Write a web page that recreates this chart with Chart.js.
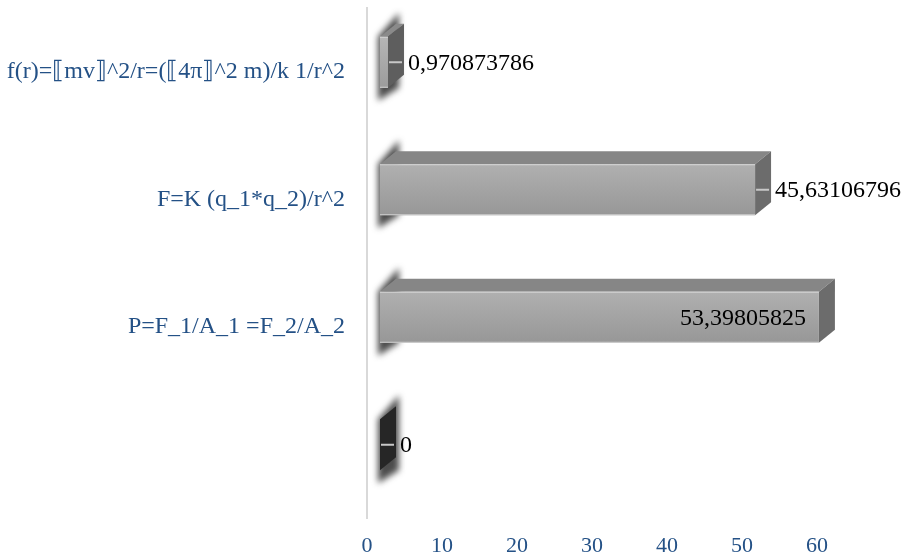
<!DOCTYPE html>
<html>
<head>
<meta charset="utf-8">
<script src="https://cdn.jsdelivr.net/npm/chart.js@4.4.1/dist/chart.umd.min.js"></script>
<style>
  html, body { margin: 0; padding: 0; background: #ffffff; }
  canvas { display: block; }
</style>
</head>
<body>
<canvas id="chart" width="909" height="559"></canvas>
<script>
// Formula categories (top to bottom) and their values
const categories = [
  'f(r)=⟦mv⟧^2/r=(⟦4π⟧^2 m)/k 1/r^2',
  'F=K (q_1*q_2)/r^2',
  'P=F_1/A_1 =F_2/A_2',
  ''
];
const values = [0.970873786, 45.63106796, 53.39805825, 0];
const axisTicks = [0, 10, 20, 30, 40, 50, 60];

// Look of the extruded bars
const DEPTH_X = 16;
const DEPTH_Y = 13;
const LIFT = 9.5;
const barLook = [
  { front: ['#b6b6b6', '#9c9c9c'], top: '#8a8a8a', side: '#5e5e5e' },
  { front: ['#b0b0b0', '#979797'], top: '#868686', side: '#6c6c6c' },
  { front: ['#b0b0b0', '#979797'], top: '#868686', side: '#6c6c6c' },
  { front: ['#2c2c2c', '#242424'], top: '#303030', side: '#262626' }
];
const LABEL_BLUE = '#245186';
const SERIF = '"Liberation Serif", "Times New Roman", "DejaVu Serif", serif';

function barGeom(el) {
  const x0 = Math.min(el.base, el.x);
  const x1 = Math.max(el.base, el.x);
  const cy = el.y - LIFT;
  const h = el.height;
  return { x0, x1, cy, top: cy - h / 2, bottom: cy + h / 2 };
}

function poly(ctx, pts, fill) {
  ctx.beginPath();
  ctx.moveTo(pts[0][0], pts[0][1]);
  for (let i = 1; i < pts.length; i++) ctx.lineTo(pts[i][0], pts[i][1]);
  ctx.closePath();
  ctx.fillStyle = fill;
  ctx.fill();
}

const extrudedBars = {
  id: 'extrudedBars',
  afterDatasetsDraw(chart) {
    const ctx = chart.ctx;
    const meta = chart.getDatasetMeta(0);
    const ds = chart.data.datasets[0];

    // soft shadow behind the base of every bar
    meta.data.forEach((el) => {
      const g = barGeom(el);
      ctx.save();
      ctx.filter = 'blur(3px)';
      poly(ctx, [
        [g.x0 - 2, g.top],
        [g.x0 + DEPTH_X + 3, g.top - DEPTH_Y - 11],
        [g.x0 + DEPTH_X + 3, g.bottom],
        [g.x0 - 2, g.bottom + 13]
      ], 'rgba(45,45,45,0.85)');
      ctx.restore();
    });

    meta.data.forEach((el, i) => {
      const g = barGeom(el);
      const look = barLook[i % barLook.length];
      ctx.save();
      // top face
      poly(ctx, [
        [g.x0, g.top], [g.x1, g.top],
        [g.x1 + DEPTH_X, g.top - DEPTH_Y], [g.x0 + DEPTH_X, g.top - DEPTH_Y]
      ], look.top);
      // end face
      poly(ctx, [
        [g.x1, g.top], [g.x1 + DEPTH_X, g.top - DEPTH_Y],
        [g.x1 + DEPTH_X, g.bottom - DEPTH_Y], [g.x1, g.bottom]
      ], look.side);
      // front face
      if (g.x1 - g.x0 > 0.5) {
        const grad = ctx.createLinearGradient(0, g.top, 0, g.bottom);
        grad.addColorStop(0, look.front[0]);
        grad.addColorStop(1, look.front[1]);
        ctx.fillStyle = grad;
        ctx.fillRect(g.x0, g.top, g.x1 - g.x0, g.bottom - g.top);
        ctx.strokeStyle = 'rgba(215,215,215,0.9)';
        ctx.lineWidth = 1;
        ctx.beginPath();
        ctx.moveTo(g.x0, g.top + 0.5); ctx.lineTo(g.x1, g.top + 0.5);
        ctx.moveTo(g.x0, g.bottom - 0.5); ctx.lineTo(g.x1, g.bottom - 0.5);
        ctx.stroke();
      }
      ctx.restore();
    });

    // value labels
    ctx.save();
    ctx.font = '24px ' + SERIF;
    ctx.fillStyle = '#000000';
    ctx.textBaseline = 'middle';
    meta.data.forEach((el, i) => {
      const g = barGeom(el);
      const text = String(ds.data[i]).replace('.', ',');
      const w = ctx.measureText(text).width;
      const outsideX = g.x1 + DEPTH_X + 4;
      if (outsideX + w > chart.width - 2) {
        ctx.textAlign = 'right';
        ctx.fillText(text, g.x1 - 13, g.cy + 1);
      } else {
        ctx.strokeStyle = '#c8c8c8';
        ctx.lineWidth = 2;
        ctx.beginPath();
        ctx.moveTo(g.x1 + 1, g.cy);
        ctx.lineTo(g.x1 + DEPTH_X - 2, g.cy);
        ctx.stroke();
        ctx.textAlign = 'left';
        ctx.fillText(text, outsideX, g.cy + 1);
      }
    });
    ctx.restore();
  }
};

new Chart(document.getElementById('chart'), {
  type: 'bar',
  data: {
    labels: categories,
    datasets: [{
      data: values,
      xAxisID: 'xb',
      yAxisID: 'y',
      backgroundColor: 'rgba(0,0,0,0)',
      borderWidth: 0,
      categoryPercentage: 1,
      barPercentage: 0.4
    }]
  },
  options: {
    indexAxis: 'y',
    responsive: false,
    animation: false,
    layout: { padding: { top: 8, right: 29, left: 0, bottom: 0 } },
    plugins: { legend: { display: false }, tooltip: { enabled: false } },
    scales: {
      x: {
        type: 'linear',
        axis: 'x',
        position: 'bottom',
        min: 0,
        max: 68.4,
        afterBuildTicks: (s) => { s.ticks = axisTicks.map((v) => ({ value: v })); },
        afterFit: (s) => { s.height = 41; s.paddingLeft = 0; s.paddingRight = 0; },
        grid: { display: false, drawTicks: false },
        border: { display: false },
        ticks: { color: LABEL_BLUE, font: { family: SERIF, size: 22 }, padding: 15, maxRotation: 0 }
      },
      xb: {
        type: 'linear',
        axis: 'x',
        display: false,
        min: -1.5815,
        max: 60.83
      },
      y: {
        type: 'category',
        position: 'left',
        afterFit: (s) => { s.width = 367; s.paddingTop = 0; s.paddingBottom = 0; },
        grid: { display: false, drawTicks: false },
        border: { display: true, color: '#d9d9d9', width: 2 },
        ticks: { color: LABEL_BLUE, font: { family: SERIF, size: 24 }, padding: 22, autoSkip: false }
      }
    }
  },
  plugins: [extrudedBars]
});
</script>
</body>
</html>
